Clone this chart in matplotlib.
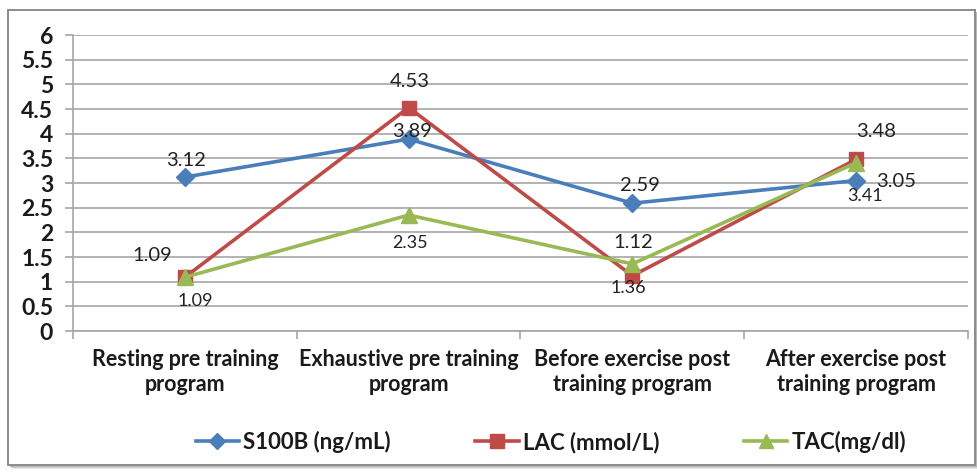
import matplotlib
matplotlib.use("Agg")
import matplotlib.pyplot as plt
from matplotlib.patches import Rectangle
from matplotlib.lines import Line2D

plt.rcParams['font.family'] = ['Lato', 'DejaVu Sans']

categories = ["Resting pre training\nprogram",
              "Exhaustive pre training\nprogram",
              "Before exercise post\ntraining program",
              "After exercise post\ntraining program"]
s100b = [3.12, 3.89, 2.59, 3.05]
lac = [1.09, 4.53, 1.12, 3.48]
tac = [1.09, 2.35, 1.36, 3.41]
series_names = ["S100B (ng/mL)", "LAC (mmol/L)", "TAC(mg/dl)"]
y_ticks = [0, 0.5, 1, 1.5, 2, 2.5, 3, 3.5, 4, 4.5, 5, 5.5, 6]

W, H = 978, 474
fig = plt.figure(figsize=(W / 100, H / 100), dpi=100)
fig.patch.set_facecolor("white")

# outer chart frame with a soft shadow
def px_rect(x0, y0, x1, y1, **kw):
    return Rectangle((x0 / W, 1 - y1 / H), (x1 - x0) / W, (y1 - y0) / H,
                     transform=fig.transFigure, **kw)

for i, c in enumerate(["#e6e6e6", "#d0d0d0", "#b8b8b8"]):
    off = 4 - i
    fig.patches.append(px_rect(8 + off, 10 + off, 975 + off, 465 + off,
                               facecolor=c, edgecolor="none", zorder=0))
fig.patches.append(px_rect(8, 10, 975, 465, facecolor="white",
                           edgecolor="#8c8c8c", linewidth=1.4, zorder=1))

ax = fig.add_axes([73 / W, 1 - 331 / H, (968 - 73) / W, (331 - 35) / H])
ax.set_zorder(2)
ax.patch.set_alpha(0)

x = [0.5, 1.5, 2.5, 3.5]
blue, red, green = "#4a7ebb", "#be4b48", "#98b954"

ax.plot(x, s100b, color=blue, lw=2.6, marker="D", ms=9, mec=blue, zorder=4)
ax.plot(x, lac, color=red, lw=2.6, marker="s", ms=10, mec=red, zorder=4)
ax.plot(x, tac, color=green, lw=2.6, marker="^", ms=11, mec=green, zorder=5)

ax.set_xlim(0, 4)
ax.set_ylim(0, 6)
ax.set_yticks(y_ticks)
ax.set_yticklabels([f"{v:g}" for v in y_ticks], fontsize=16.5, fontweight="bold",
                   color="#1a1a1a")
ax.yaxis.grid(True, color="#a6a6a6", lw=1.2)
ax.set_axisbelow(True)

ax.set_xticks(x)
ax.set_xticklabels(categories, fontsize=15.5, fontweight="bold", linespacing=1.25,
                   color="#1a1a1a")
ax.tick_params(axis="x", length=0, pad=13)
ax.set_xticks([0, 1, 2, 3, 4], minor=True)
ax.tick_params(axis="x", which="minor", length=6, color="#a6a6a6", width=1.2)
ax.tick_params(axis="y", length=5.8, color="#a6a6a6", width=1.2, pad=8.5)

for s in ["top", "right"]:
    ax.spines[s].set_visible(False)
for s in ["left", "bottom"]:
    ax.spines[s].set_color("#a6a6a6")
    ax.spines[s].set_linewidth(1.2)

# data labels (offsets in pixels)
def lab(xv, yv, text, dx, dy, size=14.5):
    ax.annotate(text, (xv, yv), xytext=(dx * 0.72, dy * 0.72),
                textcoords="offset points", ha="center", va="center",
                fontsize=size, color="#222222", zorder=6)

s_off = [(1, 17), (3, 8), (8, 18), (40, -1)]
l_off = [(-33, 22), (1, 26), (1, 33), (20, 28)]
t_off = [(10, -24), (1, -28), (-4, -24), (9, -33)]
for i in range(4):
    lab(x[i], s100b[i], f"{s100b[i]:.2f}", *s_off[i])
    lab(x[i], lac[i], f"{lac[i]:.2f}", *l_off[i])
    lab(x[i], tac[i], f"{tac[i]:.2f}", *t_off[i], size=13)

handles = [Line2D([], [], color=blue, lw=2.6, marker="D", ms=8.5),
           Line2D([], [], color=red, lw=2.6, marker="s", ms=9.5),
           Line2D([], [], color=green, lw=2.6, marker="^", ms=10.5)]
fig.legend(handles, series_names, loc="center", ncol=3,
           bbox_to_anchor=(551 / W, 1 - 442 / H), frameon=False,
           prop={"size": 16, "weight": "bold"}, handlelength=1.95,
           handletextpad=0.2, columnspacing=3.8, labelcolor="#1a1a1a")

fig.savefig("out.png", dpi=100)
